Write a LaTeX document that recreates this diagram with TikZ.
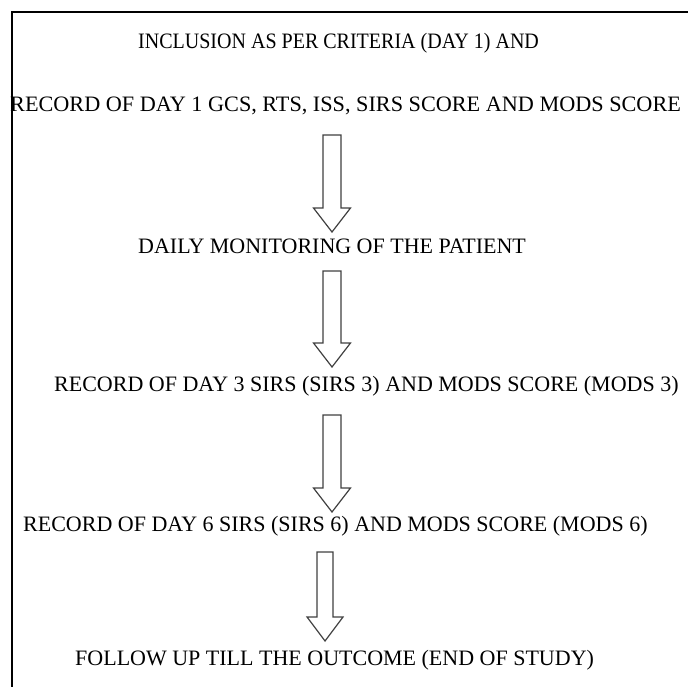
\documentclass[tikz,border=0pt]{standalone}
\usepackage{fontspec}
\setmainfont{Liberation Serif}
\usetikzlibrary{calc}
\newcommand{\HollowArrow}[4]{% from, to, shaft half width, head half width
    \draw[hollow] let \p1=(#1), \p2=(#2) in
        (\x1-#3pt,\y1) -- (\x1+#3pt,\y1) -- (\x1+#3pt,\y2+24pt)
        -- (\x1+#4pt,\y2+24pt) -- (\x1,\y2) -- (\x1-#4pt,\y2+24pt)
        -- (\x1-#3pt,\y2+24pt) -- cycle;
}

\begin{document}
\begin{tikzpicture}[x=1pt,y=1pt,
    steptext/.style={anchor=base west, inner sep=0pt, font=\fontsize{22}{26}\selectfont},
    hollow/.style={draw=black!75, line width=1.2pt, fill=white, line join=miter}]
    \useasboundingbox (0,0) rectangle (688,-687);
        % frame (top and left only)
        \draw[black, line width=2.5pt] (12,-687) -- (12,-12) -- (688,-12);
        % steps
        \node[steptext, xscale=0.91] (incl) at (138,-49) {INCLUSION AS PER CRITERIA (DAY 1) AND};
        \node[steptext, xscale=1.01] (day1) at (10,-112) {RECORD OF DAY 1 GCS, RTS, ISS, SIRS SCORE AND MODS SCORE};
        \node[steptext] (daily) at (138,-254) {DAILY MONITORING OF THE PATIENT};
        \node[steptext] (day3) at (54,-391) {RECORD OF DAY 3 SIRS (SIRS 3) AND MODS SCORE (MODS 3)};
        \node[steptext] (day6) at (23,-531) {RECORD OF DAY 6 SIRS (SIRS 6) AND MODS SCORE (MODS 6)};
        \node[steptext] (follow) at (75,-665) {FOLLOW UP TILL THE OUTCOME (END OF STUDY)};
        % arrow ends
        \coordinate (a1top) at (332,-135);
        \coordinate (a1tip) at (332,-232);
        \coordinate (a2top) at (332,-271);
        \coordinate (a2tip) at (332,-367);
        \coordinate (a3top) at (332,-415);
        \coordinate (a3tip) at (332,-512);
        \coordinate (a4top) at (325,-552);
        \coordinate (a4tip) at (325,-641);
        \HollowArrow{a1top}{a1tip}{9}{18.5}
        \HollowArrow{a2top}{a2tip}{9}{18.5}
        \HollowArrow{a3top}{a3tip}{9}{18.5}
        \HollowArrow{a4top}{a4tip}{8}{18}
\end{tikzpicture}
\end{document}
